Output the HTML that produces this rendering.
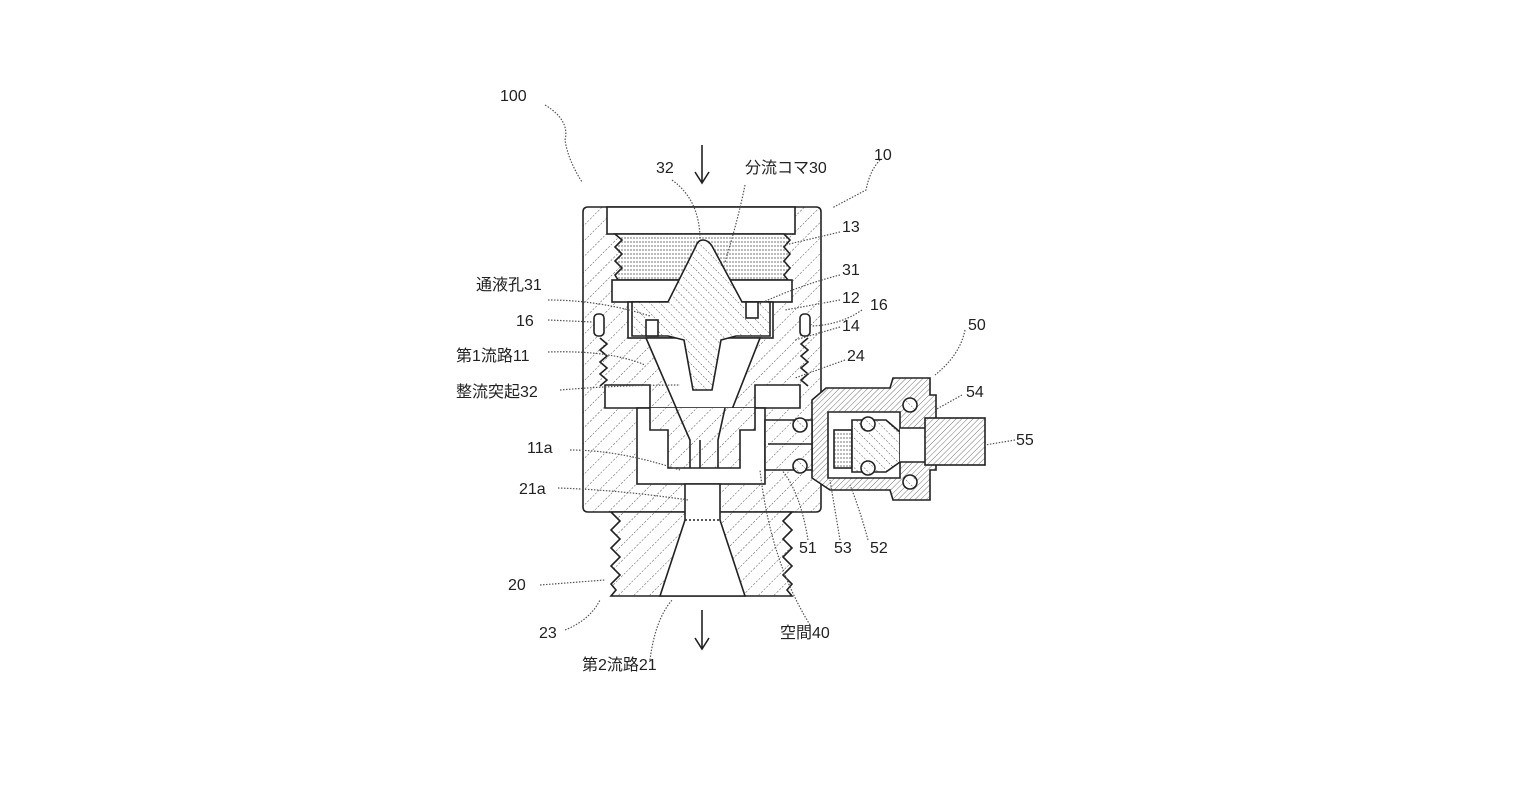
<!DOCTYPE html>
<html><head><meta charset="utf-8"><style>
html,body{margin:0;padding:0;background:#fff;}
svg{display:block}
text{font-family:"Liberation Sans","Noto Sans CJK JP",sans-serif;font-size:16px;fill:#222;}
</style></head><body>
<svg width="1536" height="800" viewBox="0 0 1536 800" xmlns="http://www.w3.org/2000/svg">
<defs>
<pattern id="h" patternUnits="userSpaceOnUse" width="11" height="11" patternTransform="rotate(45)">
<rect width="11" height="11" fill="#fff"/><line x1="0" y1="0" x2="0" y2="11" stroke="#555" stroke-width="1" stroke-dasharray="2 1.5"/></pattern>
<pattern id="h2" patternUnits="userSpaceOnUse" width="7" height="7" patternTransform="rotate(-45)">
<rect width="7" height="7" fill="#fff"/><line x1="0" y1="0" x2="0" y2="7" stroke="#555" stroke-width="1" stroke-dasharray="2 1.5"/></pattern>
<pattern id="h3" patternUnits="userSpaceOnUse" width="4" height="4" patternTransform="rotate(45)">
<rect width="4" height="4" fill="#fff"/><line x1="0" y1="0" x2="0" y2="4" stroke="#777" stroke-width="1"/></pattern>
<pattern id="hz" patternUnits="userSpaceOnUse" width="6" height="4">
<rect width="6" height="4" fill="#fff"/><line x1="0" y1="2" x2="6" y2="2" stroke="#777" stroke-width="1" stroke-dasharray="2 1"/></pattern>
</defs>
<g stroke="#222" stroke-width="1.6" fill="none">
<path d="M588,207 H816 Q821,207 821,212 V507 Q821,512 816,512 H588 Q583,512 583,507 V212 Q583,207 588,207 Z" fill="url(#h)"/>
<path d="M611,512 L620,521 L611,530 L620,539 L611,548 L620,557 L611,566 L620,575 L611,584 L616,590 L611,596 H792 L787,590 L792,584 L783,575 L792,566 L783,557 L792,548 L783,539 L792,530 L783,521 L792,512 Z" fill="url(#h)"/>
<rect x="607" y="207" width="188" height="27" fill="#fff"/>
<path d="M615,234 L622,240 L615,247 L622,254 L615,261 L622,268 L615,275 L618,280 H788 L784,275 L790,268 L784,261 L790,254 L784,247 L790,240 L784,234 Z" fill="url(#hz)"/>
<rect x="612" y="280" width="180" height="22" fill="#fff"/>
<rect x="628" y="302" width="145" height="36" fill="#fff"/>
<path d="M646,338 L690,440 H720 L760,338 Z" fill="#fff"/>
<path d="M605,385 H650 V408 H605 Z M755,385 H800 V408 H755 Z" fill="#fff"/>
<rect x="637" y="408" width="128" height="76" fill="#fff"/>
<path d="M703,240 Q698,240 696,246 L668,302 H632 L632,336 H668 L684,340 L693,390 H712 L721,340 L736,336 H770 V302 H742 L712,246 Q708,240 703,240 Z" fill="url(#h2)"/>
<rect x="646" y="320" width="12" height="16" fill="#fff"/>
<rect x="746" y="302" width="12" height="16" fill="#fff"/>
<path d="M650,408 V430 H668 V468 H740 V430 H755 V408" fill="url(#h)"/>
<path d="M676,408 L690,440 V468 M725,408 L718,440 V468"/>
<line x1="700" y1="440" x2="700" y2="468"/>
<path d="M685,484 V520 L660,596 H745 L720,520 V484 Z" fill="#fff"/>
<line x1="685" y1="520" x2="720" y2="520" stroke-dasharray="2 2"/>
<path d="M600,338 L607,344 L600,350 L607,356 L600,362 L607,368 L600,374 L607,380 L600,386" />
<path d="M808,338 L801,344 L808,350 L801,356 L808,362 L801,368 L808,374 L801,380 L808,386" />
<rect x="594" y="314" width="10" height="22" rx="4" fill="#fff"/>
<rect x="800" y="314" width="10" height="22" rx="4" fill="#fff"/>
<path d="M812,400 L826,388 H890 L893,378 H930 V395 H936 V470 H930 V500 H893 L890,490 H830 L812,478 Z" fill="url(#h3)"/>
<path d="M765,420 H812 V470 H765 Z" fill="url(#h)"/>
<line x1="768" y1="444" x2="812" y2="444"/>
<circle cx="800" cy="425" r="7" fill="url(#h2)"/>
<circle cx="800" cy="466" r="7" fill="url(#h2)"/>
<path d="M828,412 H900 V478 H828 Z" fill="#fff"/>
<rect x="834" y="430" width="18" height="38" fill="url(#hz)"/>
<path d="M852,420 H886 L900,432 V462 L886,472 H852 Z" fill="url(#h2)"/>
<circle cx="868" cy="424" r="7" fill="url(#h2)"/>
<circle cx="868" cy="468" r="7" fill="url(#h2)"/>
<circle cx="910" cy="405" r="7" fill="url(#h2)"/>
<circle cx="910" cy="482" r="7" fill="url(#h2)"/>
<path d="M900,428 H928 V462 H900" fill="#fff"/>
<rect x="925" y="418" width="60" height="47" fill="url(#h3)"/>
</g>
<g stroke="#222" stroke-width="1.6" fill="none">
<path d="M702,145 V182 M695,172 L702,183 L709,172"/>
<path d="M702,610 V648 M695,638 L702,649 L709,638"/>
</g>
<g stroke="#555" stroke-width="1.2" fill="none" stroke-dasharray="1.5 1.5">
<path d="M545,105 Q570,120 565,140 Q568,160 582,182"/>
<path d="M880,160 Q870,170 866,190 L832,208"/>
<path d="M672,180 Q700,200 700,240"/>
<path d="M745,185 Q738,220 725,262"/>
<path d="M840,232 L785,245"/><path d="M840,275 Q800,285 757,305"/>
<path d="M840,300 L785,310"/><path d="M862,310 Q840,325 812,326"/>
<path d="M840,327 L795,340"/><path d="M845,360 L795,378"/>
<path d="M548,300 Q600,300 650,316"/><path d="M548,320 L593,322"/>
<path d="M548,352 Q610,350 645,365"/><path d="M560,390 Q620,385 680,385"/>
<path d="M570,450 Q620,450 680,470"/><path d="M558,488 Q620,490 688,500"/>
<path d="M540,585 L605,580"/><path d="M565,630 Q590,620 600,600"/>
<path d="M650,660 Q655,620 672,600"/><path d="M810,625 Q770,560 760,470"/>
<path d="M808,540 Q800,490 780,468"/><path d="M840,540 L830,480"/>
<path d="M868,540 Q860,510 850,485"/><path d="M965,330 Q960,355 935,375"/>
<path d="M962,395 L935,410"/><path d="M1015,440 L985,445"/>
</g>
<text x="500" y="101">100</text>
<text x="656" y="173">32</text>
<text x="745" y="173">分流コマ30</text>
<text x="874" y="160">10</text>
<text x="842" y="232">13</text>
<text x="842" y="275">31</text>
<text x="842" y="303">12</text>
<text x="870" y="310">16</text>
<text x="842" y="331">14</text>
<text x="968" y="330">50</text>
<text x="847" y="361">24</text>
<text x="966" y="397">54</text>
<text x="1016" y="445">55</text>
<text x="476" y="290">通液孔31</text>
<text x="516" y="326">16</text>
<text x="456" y="361">第1流路11</text>
<text x="456" y="397">整流突起32</text>
<text x="527" y="453">11a</text>
<text x="519" y="494">21a</text>
<text x="799" y="553">51</text>
<text x="834" y="553">53</text>
<text x="870" y="553">52</text>
<text x="508" y="590">20</text>
<text x="539" y="638">23</text>
<text x="780" y="638">空間40</text>
<text x="582" y="670">第2流路21</text>
</svg>
</body></html>
